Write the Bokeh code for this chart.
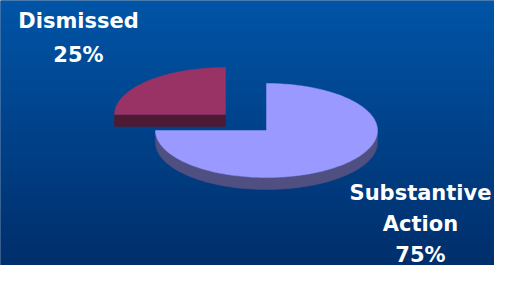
import numpy as np
from bokeh.plotting import figure
from bokeh.models import Range1d
from bokeh.core.properties import value
from bokeh.embed import file_html
from bokeh.resources import INLINE

# ---- data ----
categories = ["Substantive Action", "Dismissed"]
shares = [75, 25]
label_lines = [["Substantive", "Action", "75%"], ["Dismissed", "25%"]]
top_colors = ["#9999FF", "#993366"]
side_colors = ["#4F4F82", "#4D1A33"]

W, H = 494, 265
p = figure(width=W, height=H, output_backend="svg", toolbar_location=None,
           x_range=Range1d(0, W), y_range=Range1d(H, 0), min_border=0)
p.axis.visible = False
p.grid.visible = False
p.outline_line_color = None
p.background_fill_color = "#00306E"
p.border_fill_color = "#00306E"

# background gradient (rows)
top = np.array([0, 88, 170], float)
bot = np.array([0, 47, 108], float)
n = H
ys = np.arange(n)
cols = []
for y in ys:
    t = y / (n - 1)
    c = top * (1 - t) + bot * t
    cols.append("#%02x%02x%02x" % tuple(int(round(v)) for v in c))
p.quad(left=0, right=W, top=ys, bottom=ys + 1, fill_color=cols, line_color=cols, line_width=0.5)

# pie geometry
cx, cy, rx, ry, depth = 266, 130, 111, 47, 12
explode = [(0, 0), (-41, -16)]
fr = np.array(shares, float) / sum(shares)
start = -np.pi / 2  # 12 o'clock, going clockwise on screen (y down)
angles = []
a = start
for f in fr:
    angles.append((a, a + 2 * np.pi * f))
    a += 2 * np.pi * f

# sides first
for i, (a0, a1) in enumerate(angles):
    ox, oy = explode[i]
    x0, y0 = cx + ox, cy + oy
    lo, hi = max(a0, 0.0), min(a1, np.pi)
    if hi > lo:
        t = np.linspace(lo, hi, 80)
        xs = np.concatenate([x0 + rx * np.cos(t), (x0 + rx * np.cos(t))[::-1]])
        yy = np.concatenate([y0 + ry * np.sin(t), (y0 + ry * np.sin(t) + depth)[::-1]])
        p.patch(xs, yy, fill_color=side_colors[i], line_color=side_colors[i], line_width=0.5)
    for ang in (a0, a1):
        ex, ey = x0 + rx * np.cos(ang), y0 + ry * np.sin(ang)
        if abs(np.sin(ang)) < 1e-6 and i == 1:
            p.patch([x0, ex, ex, x0], [y0, ey, ey + depth, y0 + depth],
                    fill_color=side_colors[i], line_color=side_colors[i], line_width=0.5)

# tops
for i, (a0, a1) in enumerate(angles):
    ox, oy = explode[i]
    x0, y0 = cx + ox, cy + oy
    t = np.linspace(a0, a1, 200)
    xs = np.concatenate([[x0], x0 + rx * np.cos(t)])
    yy = np.concatenate([[y0], y0 + ry * np.sin(t)])
    p.patch(xs, yy, fill_color=top_colors[i], line_color=top_colors[i], line_width=0.5)

# labels
label_pos = [(420, 192, 31), (78, 20, 34)]
for i, lines in enumerate(label_lines):
    lx, ly, step = label_pos[i]
    p.text(x=[lx] * len(lines), y=[ly + k * step for k in range(len(lines))], text=lines,
           text_color="white", text_font=value("DejaVu Sans"), text_font_style="bold",
           text_font_size="21px", text_align="center", text_baseline="alphabetic")

open("out.html", "w").write(file_html(p, INLINE))
